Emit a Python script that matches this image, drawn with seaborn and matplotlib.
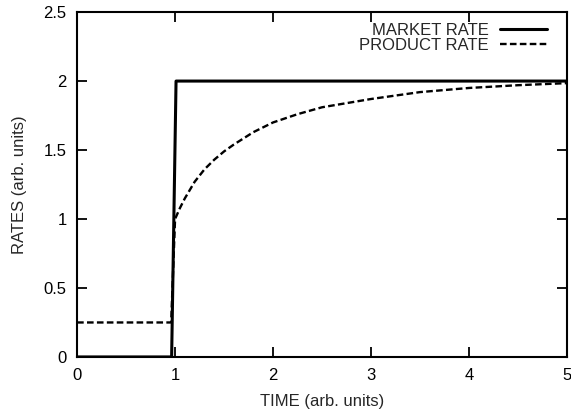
import numpy as np
import pandas as pd
import matplotlib
matplotlib.use("Agg")
import matplotlib.pyplot as plt
import seaborn as sns

# valeurs
market_time = [0.0, 0.965, 1.01, 5.0]
market_rate = [0.0, 0.0, 2.0, 2.0]

product_time = [0.0, 0.96, 1.0, 1.05, 1.1, 1.2, 1.3, 1.4, 1.5, 1.6, 1.8, 2.0,
                2.25, 2.5, 2.75, 3.0, 3.5, 4.0, 4.5, 5.0]
product_rate = [0.25, 0.25, 1.0, 1.08, 1.15, 1.27, 1.36, 1.43, 1.49, 1.54, 1.63, 1.70,
                1.76, 1.81, 1.84, 1.87, 1.92, 1.95, 1.97, 1.985]

x_ticks = [0, 1, 2, 3, 4, 5]
y_ticks = [0, 0.5, 1, 1.5, 2, 2.5]
y_labels = ["0", "0.5", "1", "1.5", "2", "2.5"]

sns.set_style("ticks")
plt.rcParams['font.family'] = ['Liberation Sans', 'DejaVu Sans']

fig = plt.figure(figsize=(5.71, 4.17), dpi=100)
ax = fig.add_axes([0.135, 0.144, 0.858, 0.827])

sns.lineplot(x=market_time, y=market_rate, ax=ax, color="black", linewidth=2.2,
             estimator=None, sort=False, label="MARKET RATE")
sns.lineplot(x=product_time, y=product_rate, ax=ax, color="black", linewidth=1.7,
             estimator=None, sort=False, label="PRODUCT RATE", linestyle=(0, (2.8, 1.4)))

ax.set_xlim(0, 5)
ax.set_ylim(0, 2.5)
ax.set_xticks(x_ticks)
ax.set_xticklabels([str(t) for t in x_ticks])
ax.set_yticks(y_ticks)
ax.set_yticklabels(y_labels)
ax.tick_params(direction="in", length=7, width=1.3, top=True, right=True,
               labelsize=12, colors="black")
ax.tick_params(axis="y", pad=7.5)
ax.tick_params(axis="x", pad=8)
for s in ax.spines.values():
    s.set_linewidth(1.5)
    s.set_color("black")

ax.set_xlabel("TIME (arb. units)", fontsize=12, labelpad=8)
ax.set_ylabel("RATES (arb. units)", fontsize=12, labelpad=12)

ax.legend(loc="upper right", frameon=False, markerfirst=False, fontsize=12,
          handlelength=2.8, handletextpad=0.7, labelspacing=0.0,
          borderpad=0, borderaxespad=0, bbox_to_anchor=(0.959, 0.968))

fig.savefig("out.png", dpi=100)
